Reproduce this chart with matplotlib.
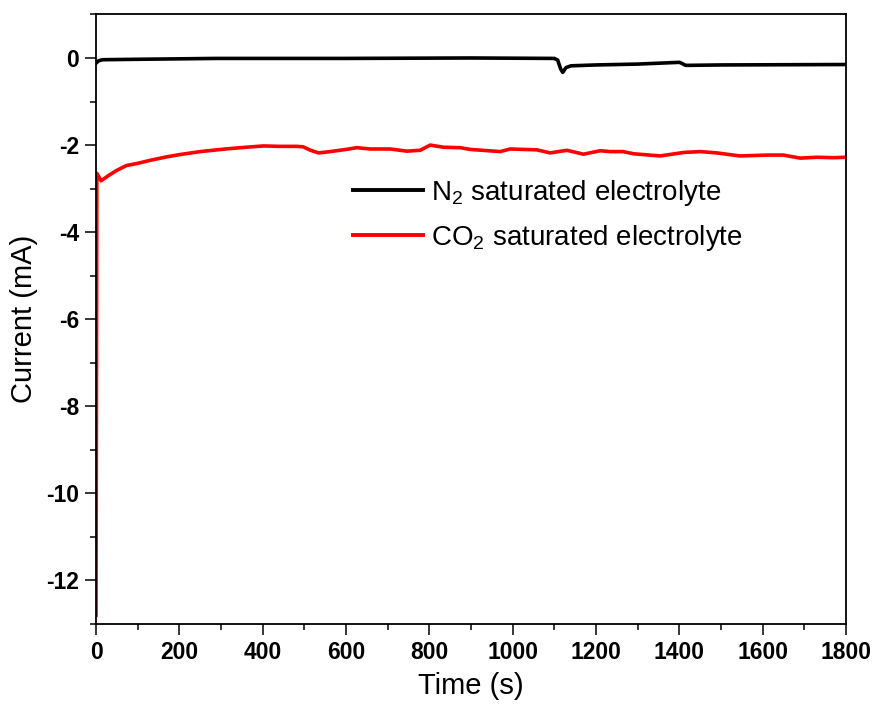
import matplotlib
matplotlib.use("Agg")
import matplotlib.pyplot as plt
from matplotlib.ticker import MultipleLocator

plt.rcParams['font.family'] = ['Liberation Sans', 'DejaVu Sans']
plt.rcParams['mathtext.fontset'] = 'custom'
plt.rcParams['mathtext.rm'] = 'Liberation Sans'
plt.rcParams['axes.unicode_minus'] = False

t_co2 = [0, 2, 5, 12, 30, 50, 73, 100, 130, 170, 200, 250, 300, 322, 360, 402, 440, 482, 497,
         515, 534, 562, 600, 626, 658, 706, 746, 778, 802, 834, 874, 898, 970, 994, 1025, 1058,
         1090, 1130, 1170, 1210, 1234, 1265, 1290, 1354, 1410, 1450, 1490, 1545, 1610, 1650,
         1690, 1730, 1770, 1800]
i_co2 = [-12.8, -2.65, -2.7, -2.82, -2.7, -2.58, -2.47, -2.42, -2.35, -2.27, -2.22, -2.15, -2.1,
         -2.08, -2.05, -2.02, -2.03, -2.03, -2.04, -2.12, -2.18, -2.15, -2.1, -2.06, -2.09, -2.09,
         -2.14, -2.12, -2.0, -2.05, -2.06, -2.1, -2.15, -2.09, -2.1, -2.11, -2.18, -2.12, -2.21,
         -2.13, -2.15, -2.15, -2.2, -2.25, -2.17, -2.15, -2.18, -2.25, -2.23, -2.23, -2.3, -2.28,
         -2.29, -2.28]

t_n2 = [0, 5, 15, 100, 290, 600, 900, 1100, 1108, 1115, 1120, 1128, 1140, 1200, 1300, 1400,
        1405, 1415, 1500, 1800]
i_n2 = [-0.12, -0.07, -0.04, -0.03, -0.01, -0.01, 0.0, -0.01, -0.05, -0.25, -0.33, -0.22, -0.18,
        -0.16, -0.14, -0.1, -0.12, -0.17, -0.16, -0.15]

labels = ['N$_\\mathregular{2}$ saturated electrolyte', 'CO$_\\mathregular{2}$ saturated electrolyte']

fig = plt.figure(figsize=(8.77, 7.22), dpi=100)
ax = fig.add_axes([0.1095, 0.1357, 0.8552, 0.8443])
ax.plot(t_n2, i_n2, color='black', lw=2.6, label=labels[0])
ax.plot(t_co2, i_co2, color='#ff0000', lw=2.6, label=labels[1])

ax.set_xlim(0, 1800)
ax.set_ylim(-13, 1)
ax.xaxis.set_major_locator(MultipleLocator(200))
ax.xaxis.set_minor_locator(MultipleLocator(100))
ax.yaxis.set_major_locator(MultipleLocator(2))
ax.yaxis.set_minor_locator(MultipleLocator(1))
ax.tick_params(which='both', direction='out', top=False, right=False, width=1.1)
ax.tick_params(which='major', length=8, labelsize=16.5, pad=4)
ax.tick_params(which='minor', length=4.5)
for lab in ax.get_xticklabels() + ax.get_yticklabels():
    lab.set_fontweight('bold')
for s in ax.spines.values():
    s.set_linewidth(1.3)

ax.set_xlabel('Time (s)', fontsize=21, labelpad=6)
ax.set_ylabel('Current (mA)', fontsize=21, labelpad=6)

leg = ax.legend(loc='upper left', bbox_to_anchor=(0.343, 0.732), frameon=False, fontsize=20,
                handlelength=2.5, handletextpad=0.29, borderpad=0, borderaxespad=0,
                labelspacing=0.55)
for ln in leg.get_lines():
    ln.set_linewidth(2.8)

fig.savefig('out.png', dpi=100)
